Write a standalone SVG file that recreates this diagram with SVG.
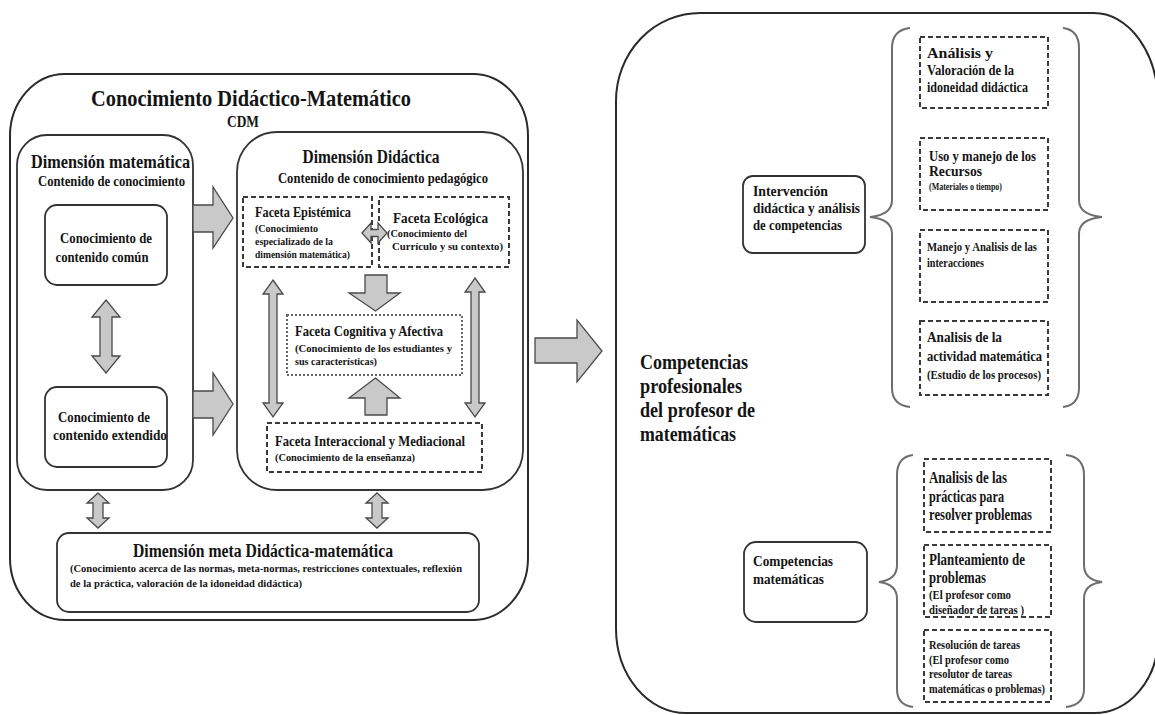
<svg xmlns="http://www.w3.org/2000/svg" width="1155" height="715" viewBox="0 0 1155 715">
  <style>
    text { font-family: "Liberation Serif", "Times New Roman", serif; font-weight: bold; fill: #141414; }
    .box { fill: #ffffff; stroke: #2a2a2a; stroke-width: 2; }
    .inner { fill: #ffffff; stroke: #333333; stroke-width: 1.8; }
    .dash { fill: none; stroke: #3a3a3a; stroke-width: 2; stroke-dasharray: 5 3; }
    .dot { fill: none; stroke: #666666; stroke-width: 2; stroke-dasharray: 2 2; }
    .arrow { fill: #c9c9c9; stroke: #4a4a4a; stroke-width: 1.3; stroke-linejoin: miter; }
    .brace { fill: none; stroke: #6e6e6e; stroke-width: 2; }
    .mid { text-anchor: middle; }
    .s24 { font-size: 24px; }
    .s20 { font-size: 20px; }
    .s18 { font-size: 18px; }
    .s16 { font-size: 16px; }
    .s15 { font-size: 15px; }
    .s14 { font-size: 14px; }
    .s12 { font-size: 12px; }
    .s11 { font-size: 11px; }
    .s10 { font-size: 10px; }
  </style>

  <rect width="1155" height="715" fill="#ffffff"/>

  <!-- Knowledge block (CDM) -->
  <g id="cdm">
    <rect class="box" x="10" y="74" width="518" height="546" rx="55" ry="62"/>
    <text class="s24 mid" x="251" y="106" textLength="320" lengthAdjust="spacingAndGlyphs">Conocimiento Didáctico-Matemático</text>
    <text class="s16 mid" x="243" y="127" textLength="32" lengthAdjust="spacingAndGlyphs">CDM</text>
  </g>

  <g id="dim-matematica">
    <rect class="inner" x="17" y="135" width="176" height="355" rx="30"/>
    <text class="s18" x="31" y="168" textLength="159" lengthAdjust="spacingAndGlyphs">Dimensión matemática</text>
    <text class="s14" x="38" y="186" textLength="147" lengthAdjust="spacingAndGlyphs">Contenido de conocimiento</text>
  </g>

  <g id="contenido-comun">
    <rect class="inner" x="45" y="205" width="122" height="80" rx="12"/>
    <text class="s15 mid" x="106" y="243" textLength="92" lengthAdjust="spacingAndGlyphs">Conocimiento de</text>
    <text class="s15 mid" x="102" y="262" textLength="93" lengthAdjust="spacingAndGlyphs">contenido común</text>
  </g>

  <g id="contenido-extendido">
    <rect class="inner" x="45" y="387" width="122" height="80" rx="12"/>
    <text class="s15 mid" x="104" y="422" textLength="92" lengthAdjust="spacingAndGlyphs">Conocimiento de</text>
    <text class="s15 mid" x="110" y="440" textLength="114" lengthAdjust="spacingAndGlyphs">contenido extendido</text>
  </g>

  <g id="dim-didactica">
    <rect class="inner" x="237" y="132" width="286" height="358" rx="40"/>
    <text class="s18 mid" x="371" y="163" textLength="137" lengthAdjust="spacingAndGlyphs">Dimensión Didáctica</text>
    <text class="s14 mid" x="383" y="183" textLength="210" lengthAdjust="spacingAndGlyphs">Contenido de conocimiento pedagógico</text>
  </g>

  <g id="faceta-epistemica">
    <rect class="dash" x="243" y="197" width="129" height="70"/>
    <text class="s15" x="255" y="217" textLength="96" lengthAdjust="spacingAndGlyphs">Faceta Epistémica</text>
    <text class="s11" x="255" y="232" textLength="63" lengthAdjust="spacingAndGlyphs">(Conocimiento</text>
    <text class="s11" x="255" y="245" textLength="78" lengthAdjust="spacingAndGlyphs">especializado de la</text>
    <text class="s11" x="255" y="258" textLength="95" lengthAdjust="spacingAndGlyphs">dimensión matemática)</text>
  </g>

  <g id="faceta-ecologica">
    <rect class="dash" x="379" y="197" width="130" height="70"/>
    <text class="s15" x="393" y="223" textLength="95" lengthAdjust="spacingAndGlyphs">Faceta Ecológica</text>
    <text class="s11" x="387" y="237" textLength="80" lengthAdjust="spacingAndGlyphs">(Conocimiento del</text>
    <text class="s11" x="392" y="250" textLength="111" lengthAdjust="spacingAndGlyphs">Currículo y su contexto)</text>
  </g>

  <g id="faceta-cognitiva">
    <rect class="dot" x="287" y="315" width="175" height="60"/>
    <text class="s15" x="295" y="336" textLength="148" lengthAdjust="spacingAndGlyphs">Faceta Cognitiva y Afectiva</text>
    <text class="s11" x="295" y="352" textLength="157" lengthAdjust="spacingAndGlyphs">(Conocimiento de los estudiantes y</text>
    <text class="s11" x="295" y="365" textLength="82" lengthAdjust="spacingAndGlyphs">sus características)</text>
  </g>

  <g id="faceta-interaccional">
    <rect class="dash" x="267" y="423" width="215" height="49"/>
    <text class="s15" x="275" y="446" textLength="190" lengthAdjust="spacingAndGlyphs">Faceta Interaccional y Mediacional</text>
    <text class="s11" x="275" y="461" textLength="140" lengthAdjust="spacingAndGlyphs">(Conocimiento de la enseñanza)</text>
  </g>

  <g id="dim-meta">
    <rect class="inner" x="57" y="533" width="422" height="79" rx="12"/>
    <text class="s18 mid" x="263" y="557" textLength="260" lengthAdjust="spacingAndGlyphs">Dimensión meta Didáctica-matemática</text>
    <text class="s11" x="70" y="572" textLength="392" lengthAdjust="spacingAndGlyphs">(Conocimiento acerca de las normas, meta-normas, restricciones contextuales, reflexión</text>
    <text class="s11" x="70" y="587" textLength="232" lengthAdjust="spacingAndGlyphs">de la práctica, valoración de la idoneidad didáctica)</text>
  </g>

  <!-- Professional competences block -->
  <g id="competencias-profesionales">
    <path class="box" d="M700,13 L1094,13 A64,90 0 0 1 1158,103 L1158,638 A64,75 0 0 1 1094,713 L686,713 A70,85 0 0 1 616,628 L616,101 A84,88 0 0 1 700,13 Z"/>
    <text class="s20" x="640" y="369" textLength="108" lengthAdjust="spacingAndGlyphs">Competencias</text>
    <text class="s20" x="640" y="393" textLength="102" lengthAdjust="spacingAndGlyphs">profesionales</text>
    <text class="s20" x="640" y="417" textLength="115" lengthAdjust="spacingAndGlyphs">del profesor de</text>
    <text class="s20" x="640" y="441" textLength="96" lengthAdjust="spacingAndGlyphs">matemáticas</text>
  </g>

  <g id="intervencion">
    <rect class="inner" x="743" y="176" width="122" height="77" rx="10"/>
    <text class="s14" x="753" y="196" textLength="75" lengthAdjust="spacingAndGlyphs">Intervención</text>
    <text class="s14" x="753" y="213" textLength="107" lengthAdjust="spacingAndGlyphs">didáctica  y análisis</text>
    <text class="s14" x="753" y="230" textLength="89" lengthAdjust="spacingAndGlyphs">de competencias</text>
  </g>

  <g id="idoneidad">
    <rect class="dash" x="920" y="37" width="128" height="71"/>
    <text class="s15" x="927" y="58" textLength="66" lengthAdjust="spacingAndGlyphs">Análisis y</text>
    <text class="s15" x="927" y="75" textLength="87" lengthAdjust="spacingAndGlyphs">Valoración de la</text>
    <text class="s15" x="927" y="92" textLength="101" lengthAdjust="spacingAndGlyphs">idoneidad didáctica</text>
  </g>

  <g id="recursos">
    <rect class="dash" x="920" y="138" width="128" height="72"/>
    <text class="s14" x="929" y="161" textLength="107" lengthAdjust="spacingAndGlyphs">Uso y manejo de los</text>
    <text class="s14" x="929" y="176" textLength="53" lengthAdjust="spacingAndGlyphs">Recursos</text>
    <text class="s10" x="929" y="190" textLength="73" lengthAdjust="spacingAndGlyphs">(Materiales o tiempo)</text>
  </g>

  <g id="interacciones">
    <rect class="dash" x="920" y="230" width="128" height="72"/>
    <text class="s12" x="927" y="251" textLength="110" lengthAdjust="spacingAndGlyphs">Manejo y Analisis de las</text>
    <text class="s12" x="927" y="267" textLength="57" lengthAdjust="spacingAndGlyphs">interacciones</text>
  </g>

  <g id="actividad">
    <rect class="dash" x="920" y="321" width="128" height="74"/>
    <text class="s15" x="927" y="342" textLength="75" lengthAdjust="spacingAndGlyphs">Analisis de la</text>
    <text class="s15" x="927" y="361" textLength="115" lengthAdjust="spacingAndGlyphs">actividad matemática</text>
    <text class="s12" x="927" y="379" textLength="114" lengthAdjust="spacingAndGlyphs">(Estudio de los procesos)</text>
  </g>

  <g id="competencias-matematicas">
    <rect class="inner" x="744" y="542" width="123" height="80" rx="12"/>
    <text class="s15" x="753" y="566" textLength="80" lengthAdjust="spacingAndGlyphs">Competencias</text>
    <text class="s15" x="753" y="584" textLength="71" lengthAdjust="spacingAndGlyphs">matemáticas</text>
  </g>

  <g id="practicas">
    <rect class="dash" x="924" y="459" width="127" height="73"/>
    <text class="s16" x="929" y="483" textLength="78" lengthAdjust="spacingAndGlyphs">Analisis de las</text>
    <text class="s16" x="929" y="502" textLength="75" lengthAdjust="spacingAndGlyphs">prácticas para</text>
    <text class="s16" x="929" y="520" textLength="103" lengthAdjust="spacingAndGlyphs">resolver problemas</text>
  </g>

  <g id="planteamiento">
    <rect class="dash" x="924" y="545" width="127" height="72"/>
    <text class="s16" x="929" y="565" textLength="96" lengthAdjust="spacingAndGlyphs">Planteamiento de</text>
    <text class="s16" x="929" y="583" textLength="57" lengthAdjust="spacingAndGlyphs">problemas</text>
    <text class="s12" x="929" y="599" textLength="82" lengthAdjust="spacingAndGlyphs">(El profesor como</text>
    <text class="s12" x="929" y="614" textLength="95" lengthAdjust="spacingAndGlyphs">diseñador de tareas )</text>
  </g>

  <g id="resolucion">
    <rect class="dash" x="924" y="630" width="127" height="72"/>
    <text class="s12" x="929" y="649" textLength="91" lengthAdjust="spacingAndGlyphs">Resolución de tareas</text>
    <text class="s12" x="929" y="664" textLength="80" lengthAdjust="spacingAndGlyphs">(El profesor como</text>
    <text class="s12" x="929" y="678" textLength="83" lengthAdjust="spacingAndGlyphs">resolutor de tareas</text>
    <text class="s12" x="929" y="693" textLength="116" lengthAdjust="spacingAndGlyphs">matemáticas o problemas)</text>
  </g>

  <!-- Block arrows and braces -->
  <g id="connectors">
    <path class="arrow" d="M193,205 L213,205 L213,187 L233,218 L213,248 L213,232 L193,232 Z"/>
    <path class="arrow" d="M193,391 L213,391 L213,373 L233,404 L213,435 L213,418 L193,418 Z"/>
    <path class="arrow" d="M106,300 L120,317 L112,317 L112,356 L120,356 L106,373 L92,356 L100,356 L100,317 L92,317 Z"/>
    <path class="arrow" d="M362,233 L371,223 L371,229.5 L378,229.5 L378,223 L387,233 L378,243 L378,236.5 L371,236.5 L371,243 Z"/>
    <path class="arrow" d="M365,275 L387,275 L387,293 L400,293 L375.5,311 L349,293 L365,293 Z"/>
    <path class="arrow" d="M375.5,378 L400,398 L387,398 L387,415 L365,415 L365,398 L349,398 Z"/>
    <path class="arrow" d="M273,280 L283,294 L277,294 L277,403 L283,403 L273,417 L263,403 L269,403 L269,294 L263,294 Z"/>
    <path class="arrow" d="M475,278 L485,292 L479,292 L479,403 L485,403 L475,417 L465,403 L471,403 L471,292 L465,292 Z"/>
    <path class="arrow" d="M98,493 L109,503 L103,503 L103,518 L109,518 L98,528 L87,518 L93,518 L93,503 L87,503 Z"/>
    <path class="arrow" d="M377,493 L388,503 L382,503 L382,518 L388,518 L377,528 L366,518 L372,518 L372,503 L366,503 Z"/>
    <path class="arrow" d="M535,338 L577,338 L577,320 L602,351 L577,382 L577,363 L535,363 Z"/>

    <path class="brace" d="M910,28 Q892,30 892,48 L892,200 Q892,215 870,217 Q892,219 892,234 L892,388 Q892,405 910,407"/>
    <path class="brace" d="M1063,28 Q1079,30 1079,48 L1079,200 Q1079,215 1102,217 Q1079,219 1079,234 L1079,388 Q1079,405 1063,407"/>
    <path class="brace" d="M913,455 Q897,457 897,475 L897,565 Q897,580 879,582 Q897,584 897,599 L897,689 Q897,705 913,707"/>
    <path class="brace" d="M1066,455 Q1084,457 1084,475 L1084,565 Q1084,580 1102,582 Q1084,584 1084,599 L1084,689 Q1084,705 1066,707"/>
  </g>
</svg>
